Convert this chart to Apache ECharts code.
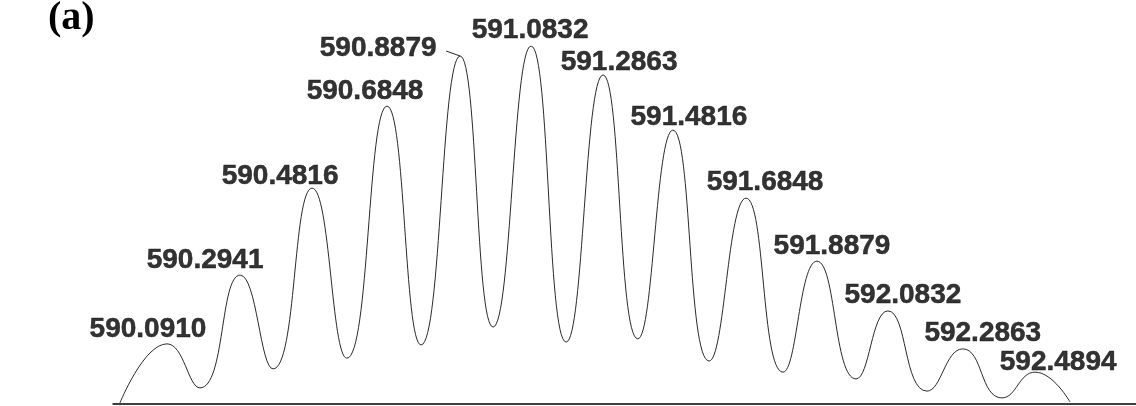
<!DOCTYPE html>
<html>
<head>
<meta charset="utf-8">
<script src="https://cdn.jsdelivr.net/npm/echarts@6/dist/echarts.min.js"></script>
<style>
html,body{margin:0;padding:0;background:#fff;}
#chart{width:1136px;height:406px;}
</style>
</head>
<body>
<div id="chart"></div>
<script>
// Peak centroid labels (m/z)
var peakLabels = ['590.0910','590.2941','590.4816','590.6848','590.8879','591.0832',
  '591.2863','591.4816','591.6848','591.8879','592.0832','592.2863','592.4894'];
// Peak apex positions (m/z) and relative intensities (%)
var peakMz = [590.091,590.293,590.492,590.699,590.901,591.097,591.296,591.489,591.691,591.887,592.083,592.290,592.490];
var peakInt = [16.8,36.0,60.3,83.2,97.2,100,91.9,76.5,57.5,39.9,26.0,15.4,8.9];
// Valleys between neighbouring peaks
var valleyMz = [590.182,590.384,590.588,590.793,590.992,591.194,591.392,591.589,591.793,591.995,592.191,592.398];
var valleyInt = [4.5,9.8,12.8,16.5,21.5,17.3,18.2,12.0,8.9,7.0,3.6,1.7];
// Start and end of the profile
var startPoint = [589.961,0.3];
var endPoint = [592.586,0.6];

// label placement tweaks [dx, dy] (layout only)
var labelShift = [[-19,-1],[-35,-1],[-32,2],[-22,-1],[-82,6],[-1,-2],[16,1],[16,1],[19,-2],[15,-1],[15,-2],[20,-2],[23,4]];
var leaderIndex = 4; // the label joined to its peak by a short leader line

var profile = [startPoint];
for (var i = 0; i < peakMz.length; i++) {
  profile.push([peakMz[i], peakInt[i]]);
  if (i < valleyMz.length) profile.push([valleyMz[i], valleyInt[i]]);
}
profile.push(endPoint);

var peakData = peakMz.map(function(m, i){
  return {
    value: [m, peakInt[i]],
    name: peakLabels[i],
    label: { offset: labelShift[i] }
  };
});

var chart = echarts.init(document.getElementById('chart'));
chart.setOption({
  animation: false,
  backgroundColor: '#fff',
  title: {
    text: '(a)',
    left: 43,
    top: -6,
    textStyle: { fontFamily: 'Liberation Serif', fontWeight: 'bold', fontSize: 40, color: '#000' }
  },
  grid: { left: 113, right: 0, top: 46, bottom: 2 },
  xAxis: {
    type: 'value',
    min: 589.9418,
    max: 592.7686,
    axisLine: { show: true, lineStyle: { color: '#000', width: 1.5 } },
    axisTick: { show: false },
    axisLabel: { show: false },
    splitLine: { show: false }
  },
  yAxis: {
    type: 'value',
    min: 0,
    max: 100,
    show: false
  },
  series: [
    {
      type: 'line',
      data: profile,
      smooth: 0.5,
      showSymbol: false,
      lineStyle: { color: '#2a2a2a', width: 1 },
      z: 2
    },
    {
      type: 'scatter',
      data: peakData,
      symbolSize: 0,
      label: {
        show: true,
        position: 'top',
        distance: 0,
        formatter: function(p){ return p.name; },
        fontFamily: 'Liberation Sans',
        fontWeight: 'bold',
        fontSize: 28,
        color: '#000',
        textBorderColor: '#000',
        textBorderWidth: 0.5
      },
      z: 3
    }
  ]
});

// short leader line from the shifted label to its peak, placed through the axes
var apex = chart.convertToPixel({ gridIndex: 0 }, [peakMz[leaderIndex], peakInt[leaderIndex]]);
chart.setOption({
  graphic: [{
    type: 'line',
    shape: { x1: apex[0] - 14, y1: apex[1] - 5, x2: apex[0], y2: apex[1] },
    style: { stroke: '#222', lineWidth: 1 },
    z: 10
  }]
});
</script>
</body>
</html>
